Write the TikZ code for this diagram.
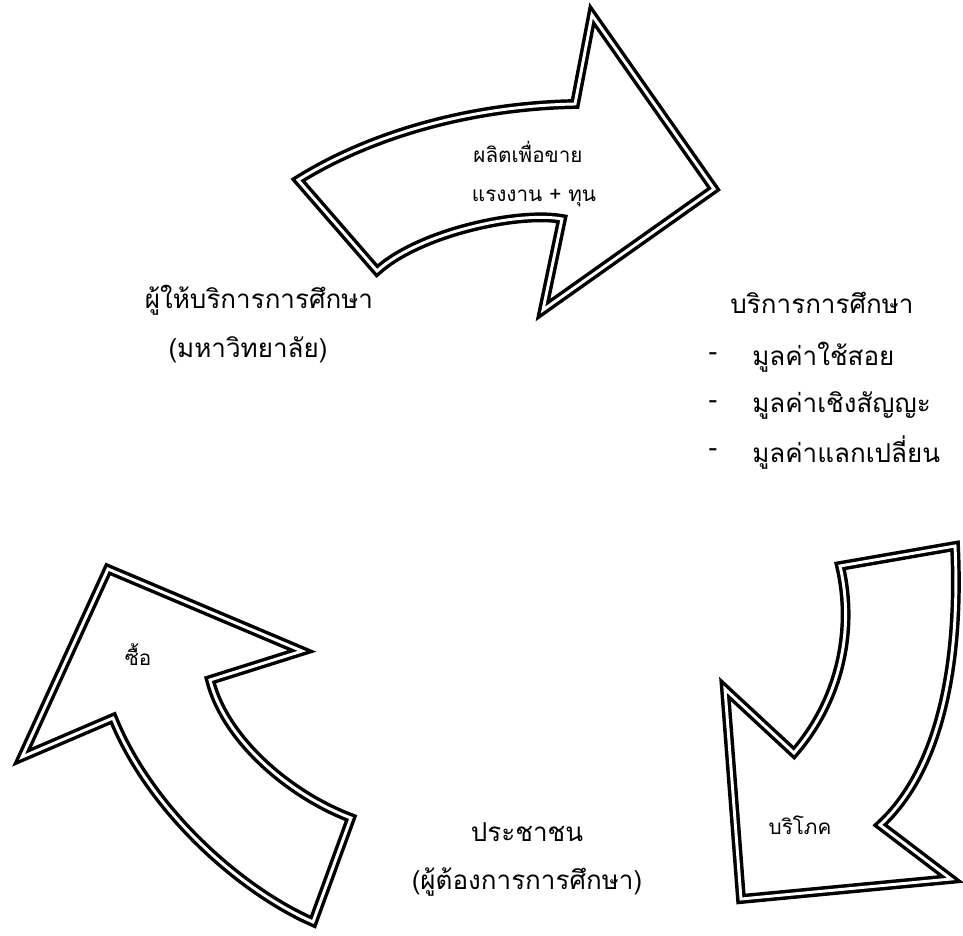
\documentclass[tikz,border=0pt]{standalone}
\usepackage{fontspec}
\setmainfont[Script=Thai]{Loma}
\usepackage{tikz}

\begin{document}
\begin{tikzpicture}[x=0.75pt,y=0.75pt,yscale=-1,xscale=1,
  dblline/.style={draw=black, double=white, line width=2.6pt, double distance=2.2pt},
  bigtxt/.style={inner sep=0.75pt, font=\fontsize{19.5}{23}\selectfont},
  smalltxt/.style={inner sep=0.75pt, font=\fontsize{15.5}{18}\selectfont}]
\useasboundingbox (0,0) rectangle (963,935);

%Shape: Curved Arrow [id:top] 
\draw [dblline] (298,180) .. controls (370,135) and (470,106) .. (575,104) -- (592,15) -- (714,189) -- (543,310) -- (562,219) .. controls (520,211) and (420,232) .. (377,271) -- cycle ;
%Shape: Curved Arrow [id:left] 
\draw [dblline] (108,569) -- (302,651) -- (210,680) .. controls (225,740) and (290,795) .. (351,818) -- (313,922) .. controls (240,890) and (150,810) .. (113,718) -- (22,757) -- cycle ;
%Shape: Curved Arrow [id:right] 
\draw [dblline] (955,546) -- (840,566) .. controls (855,630) and (840,700) .. (794,753) -- (725,689) -- (741,899) -- (951,879) -- (880,825) .. controls (945,765) and (960,650) .. (955,546) -- cycle ;

% Text Node
\draw (528,152) node [smalltxt] (sell) {ผลิตเพื่อขาย};
% Text Node
\draw (534,198) node [smalltxt] (labour) {แรงงาน + ทุน};
% Text Node
\draw (259,300) node [bigtxt] (provider) {ผู้ให้บริการการศึกษา};
% Text Node
\draw (248,350) node [bigtxt] (univ) {(มหาวิทยาลัย)};
% Text Node
\draw (822,303) node [bigtxt] (service) {บริการการศึกษา};
% Text Node
\draw (713,357) node [bigtxt] (dasha) {-};
\draw (751,357) node [bigtxt, anchor=west] (usev) {มูลค่าใช้สอย};
% Text Node
\draw (713,405) node [bigtxt] (dashb) {-};
\draw (751,405) node [bigtxt, anchor=west] (signv) {มูลค่าเชิงสัญญะ};
% Text Node
\draw (713,453) node [bigtxt] (dashc) {-};
\draw (751,453) node [bigtxt, anchor=west] (exchv) {มูลค่าแลกเปลี่ยน};
% Text Node
\draw (527,832) node [bigtxt] (people) {ประชาชน};
% Text Node
\draw (527,882) node [bigtxt] (want) {(ผู้ต้องการการศึกษา)};
% Text Node
\draw (138,655) node [smalltxt] (buy) {ซื้อ};
% Text Node
\draw (800,825) node [smalltxt] (consume) {บริโภค};

\end{tikzpicture}
\end{document}
